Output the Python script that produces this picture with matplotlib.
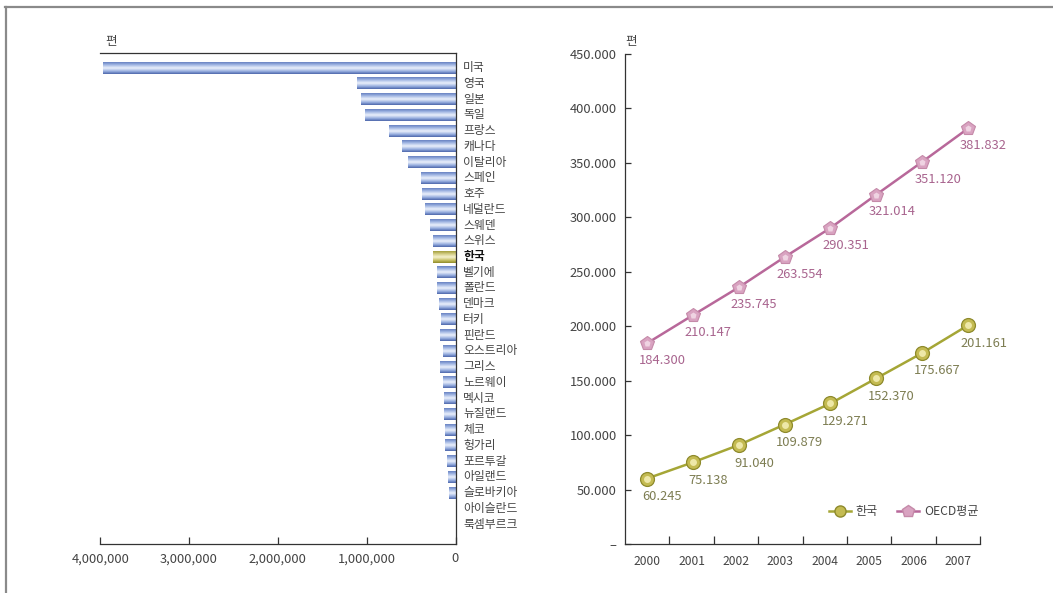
import numpy as np
import matplotlib
matplotlib.use("Agg")
import matplotlib.pyplot as plt
from matplotlib.colors import LinearSegmentedColormap
from matplotlib.lines import Line2D

plt.rcParams['font.family'] = ['Noto Sans CJK KR', 'DejaVu Sans']

# ---------------- data ----------------
countries = ['미국', '영국', '일본', '독일', '프랑스', '캐나다', '이탈리아', '스페인', '호주',
             '네덜란드', '스웨덴', '스위스', '한국', '벨기에', '폴란드', '덴마크', '터키', '핀란드',
             '오스트리아', '그리스', '노르웨이', '멕시코', '뉴질랜드', '체코', '헝가리', '포르투갈',
             '아일랜드', '슬로바키아', '아이슬란드', '룩셈부르크']
country_values = [3965000, 1104000, 1059000, 1014000, 744000, 608000, 530000, 383000, 372000,
                  349000, 282000, 248000, 259000, 203000, 203000, 190000, 158000, 169000,
                  146000, 169000, 146000, 124000, 124000, 113000, 113000, 101000,
                  90000, 68000, 0, 0]
left_xticks = [4000000, 3000000, 2000000, 1000000, 0]
left_xticklabels = ['4,000,000', '3,000,000', '2,000,000', '1,000,000', '0']

years = ['2000', '2001', '2002', '2003', '2004', '2005', '2006', '2007']
korea = [60245, 75138, 91040, 109879, 129271, 152370, 175667, 201161]
oecd = [184300, 210147, 235745, 263554, 290351, 321014, 351120, 381832]
right_yticks = [0, 50000, 100000, 150000, 200000, 250000, 300000, 350000, 400000, 450000]
right_yticklabels = ['–', '50.000', '100.000', '150.000', '200.000', '250.000',
                     '300.000', '350.000', '400.000', '450.000']
series_names = ['한국', 'OECD평균']
unit_label = '편'

# ---------------- figure ----------------
W, H = 1053, 593
fig = plt.figure(figsize=(W / 100, H / 100), dpi=100)
fig.patch.set_facecolor('white')

def fx(px):
    return px / W

def fy(py):
    return 1 - py / H

# outer frame (top and left)
frame_c = '#8a8a8a'
fig.add_artist(Line2D([fx(5), 1.0], [fy(7), fy(7)], transform=fig.transFigure, color=frame_c, lw=1.6))
fig.add_artist(Line2D([fx(6), fx(6)], [fy(7), 0.0], transform=fig.transFigure, color=frame_c, lw=1.6))

txt_c = '#444444'

# ---------------- left: horizontal bars ----------------
axL = fig.add_axes([fx(100.3), fy(544), fx(455.5 - 100.3), (544 - 53) / H])
axL.patch.set_visible(False)
blue_cmap = LinearSegmentedColormap.from_list('b', [(0, '#4a64a8'), (0.2, '#8fa7dc'), (0.5, '#eef3fc'),
                                                     (0.78, '#9fb5e3'), (1.0, '#6680c0')])
gold_cmap = LinearSegmentedColormap.from_list('g', [(0, '#8d8828'), (0.2, '#c2bb5c'), (0.5, '#f7f4d2'),
                                                     (0.78, '#d0ca80'), (1.0, '#a29d3a')])
grad = np.linspace(0, 1, 64).reshape(-1, 1)
bh = 0.76
for i, (c, v) in enumerate(zip(countries, country_values)):
    if v <= 0:
        continue
    cmap = gold_cmap if c == '한국' else blue_cmap
    axL.imshow(grad, cmap=cmap, aspect='auto', origin='lower',
               extent=(0, v, i + bh / 2, i - bh / 2), interpolation='bicubic', zorder=2)
for i, c in enumerate(countries):
    is_k = c == '한국'
    axL.annotate(c, xy=(0, i), xycoords='data', xytext=(5.5, 0), textcoords='offset points',
                 ha='left', va='center', fontsize=8.5,
                 color='#111111' if is_k else txt_c, fontweight='bold' if is_k else 'normal',
                 annotation_clip=False)
axL.set_xlim(4000000, 0)
axL.set_ylim(len(countries) - 1 + 1.27, -0.935)
axL.set_yticks([])
axL.set_xticks(left_xticks)
axL.set_xticklabels(left_xticklabels)
axL.tick_params(axis='x', direction='in', length=5, width=0.9, color='#333333',
                labelsize=9.3, labelcolor=txt_c, pad=6)
axL.tick_params(axis='y', left=False, right=False, labelleft=False)
for s in ['top', 'right', 'bottom']:
    axL.spines[s].set_color('#333333')
    axL.spines[s].set_linewidth(0.9)
axL.spines['left'].set_visible(False)
fig.text(fx(105), fy(41), unit_label, fontsize=9, color=txt_c, ha='left', va='center')

# ---------------- right: line chart ----------------
axR = fig.add_axes([fx(625), fy(544.3), fx(980 - 625), (544.3 - 54) / H])
axR.set_xlim(-0.5, len(years) - 0.5)
axR.set_ylim(0, 450000)
axR.set_xticks(np.arange(len(years)) + 0.5)
axR.set_xticklabels([])
axR.set_xticks(np.arange(len(years)), minor=True)
axR.set_xticklabels(years, minor=True)
axR.tick_params(axis='x', which='major', direction='in', length=5.5, width=0.9, color='#333333')
axR.tick_params(axis='x', which='minor', length=0, labelsize=8.7, labelcolor=txt_c, pad=8)
axR.set_yticks(right_yticks)
axR.set_yticklabels(right_yticklabels)
axR.tick_params(axis='y', direction='in', length=4.5, width=0.9, color='#333333',
                labelsize=9.3, labelcolor=txt_c, pad=6)
for s in ['top', 'right']:
    axR.spines[s].set_visible(False)
for s in ['left', 'bottom']:
    axR.spines[s].set_color('#333333')
    axR.spines[s].set_linewidth(0.9)
fig.text(fx(625), fy(41), unit_label, fontsize=9, color=txt_c, ha='left', va='center')

# points axis (points are slightly offset relative to year bins in the reference)
axP = axR.twiny()
axP.set_xlim(-0.472, 7.255)
axP.set_ylim(0, 450000)
axP.axis('off')
xi = np.arange(len(years))

k_line = '#a5a636'
o_line = '#b8689a'
axP.plot(xi, oecd, color=o_line, lw=1.8, zorder=3)
axP.plot(xi, korea, color=k_line, lw=1.8, zorder=3)
axP.plot(xi, oecd, ls='none', marker='p', ms=10.5, mfc='#d9a3c1', mec='#c58aa9', mew=0.8, zorder=4)
axP.plot(xi, oecd, ls='none', marker='p', ms=5, mfc='#efd3e2', mec='none', zorder=5)
axP.plot(xi, korea, ls='none', marker='o', ms=10, mfc='#c4bb52', mec='#8e8a2c', mew=0.9, zorder=4)
axP.plot(xi, korea, ls='none', marker='o', ms=5, mfc='#eee8a8', mec='none', zorder=5)

for x, v in zip(xi, oecd):
    axP.annotate(f'{v/1000:.3f}', xy=(x, v), xytext=(11, -12.5), textcoords='offset points',
                 ha='center', va='center', fontsize=9.3, color='#a8648e')
for x, v in zip(xi, korea):
    axP.annotate(f'{v/1000:.3f}', xy=(x, v), xytext=(11, -13), textcoords='offset points',
                 ha='center', va='center', fontsize=9.3, color='#7d7d52')

h_k = Line2D([], [], color=k_line, lw=1.8, marker='o', ms=8, mfc='#c4bb52', mec='#8e8a2c')
h_o = Line2D([], [], color=o_line, lw=1.8, marker='p', ms=9, mfc='#d9a3c1', mec='#c58aa9')
leg = axR.legend([h_k, h_o], series_names, loc='center left', bbox_to_anchor=(0.575, 0.066),
                 ncol=2, frameon=False, fontsize=8.7, handlelength=1.8, handletextpad=0.4,
                 columnspacing=1.6, borderpad=0, borderaxespad=0)
for t in leg.get_texts():
    t.set_color(txt_c)

fig.savefig('out.png', dpi=100)
